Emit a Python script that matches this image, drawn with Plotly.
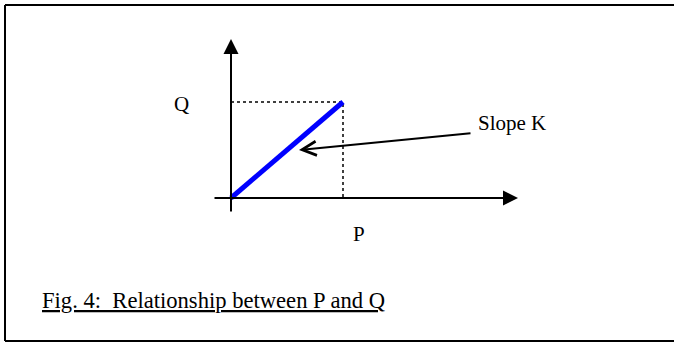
import plotly.graph_objects as go

# ---- data (conceptual diagram: Q = K * P) ----
P_VALUE = 1.0
Q_VALUE = 1.0
line_x = [0, P_VALUE]
line_y = [0, Q_VALUE]
guide_x = [0, P_VALUE, P_VALUE]
guide_y = [Q_VALUE, Q_VALUE, 0]
x_label = "P"
y_label = "Q"
slope_label = "Slope K"
caption = "Fig. 4:  Relationship between P and Q"

# ---- layout geometry (pixels) ----
W, H = 674, 344
OX, OY = 231, 198      # origin pixel
SX, SY = 112, 96       # pixels per unit


def xd(px):
    return (px - OX) / SX


def yd(py):
    return (OY - py) / SY


FONT = "Liberation Serif, Times New Roman, serif"

fig = go.Figure()
fig.add_trace(go.Scatter(x=guide_x, y=guide_y, mode="lines",
                         line=dict(color="black", width=1.5, dash="dot"),
                         hoverinfo="skip", showlegend=False))
fig.add_trace(go.Scatter(x=line_x, y=line_y, mode="lines",
                         line=dict(color="#0000ff", width=5),
                         hoverinfo="skip", showlegend=False))

ann = []
# x axis arrow
ann.append(dict(x=xd(518), y=0, ax=xd(213), ay=0, xref="x", yref="y",
                axref="x", ayref="y", text="", showarrow=True,
                arrowhead=2, arrowsize=1.5, arrowwidth=2, arrowcolor="black"))
# y axis arrow
ann.append(dict(x=0, y=yd(39), ax=0, ay=yd(213), xref="x", yref="y",
                axref="x", ayref="y", text="", showarrow=True,
                arrowhead=2, arrowsize=1.5, arrowwidth=2, arrowcolor="black"))
# slope pointer
ann.append(dict(x=xd(299), y=yd(150), ax=xd(472), ay=yd(133), xref="x", yref="y",
                axref="x", ayref="y", text="", showarrow=True,
                arrowhead=5, arrowsize=1.4, arrowwidth=2, arrowcolor="black"))
# labels
ann.append(dict(x=181 / W, y=1 - 104 / H, xref="paper", yref="paper", text=y_label,
                showarrow=False, xanchor="center", yanchor="middle",
                font=dict(family=FONT, size=21, color="black")))
ann.append(dict(x=359 / W, y=1 - 234 / H, xref="paper", yref="paper", text=x_label,
                showarrow=False, xanchor="center", yanchor="middle",
                font=dict(family=FONT, size=21, color="black")))
ann.append(dict(x=476 / W, y=1 - 123 / H, xref="paper", yref="paper", text=slope_label,
                showarrow=False, xanchor="left", yanchor="middle",
                font=dict(family=FONT, size=21, color="black")))
ann.append(dict(x=40 / W, y=1 - 300 / H, xref="paper", yref="paper", text=caption,
                showarrow=False, xanchor="left", yanchor="middle",
                font=dict(family=FONT, size=22.6, color="black", lineposition="under")))

border = dict(color="black", width=2)
shapes = [
    dict(type="line", xref="paper", yref="paper", x0=5 / W, x1=1.0,
         y0=1 - 5 / H, y1=1 - 5 / H, line=border),
    dict(type="line", xref="paper", yref="paper", x0=5 / W, x1=1.0,
         y0=1 - 341 / H, y1=1 - 341 / H, line=border),
    dict(type="line", xref="paper", yref="paper", x0=5 / W, x1=5 / W,
         y0=1 - 341 / H, y1=1 - 5 / H, line=border),
]

fig.update_layout(
    width=W, height=H, margin=dict(l=0, r=0, t=0, b=0),
    paper_bgcolor="white", plot_bgcolor="white",
    xaxis=dict(range=[xd(0), xd(W)], visible=False, fixedrange=True),
    yaxis=dict(range=[yd(H), yd(0)], visible=False, fixedrange=True),
    annotations=ann,
    shapes=shapes,
    showlegend=False,
)

fig.write_html("out.html", config={"displayModeBar": False},
               post_script="document.body.style.margin='0';"
                           "document.body.style.overflow='hidden';"
                           "document.documentElement.style.overflow='hidden';")
